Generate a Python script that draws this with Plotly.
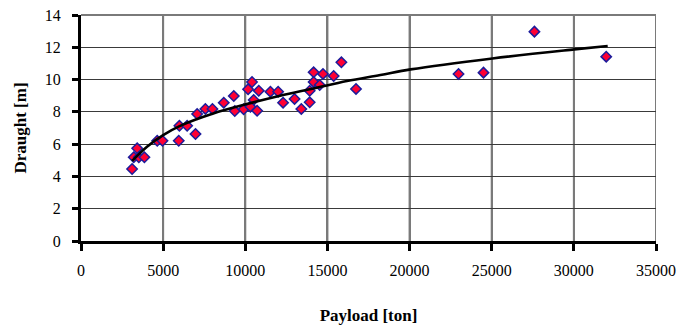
import plotly.graph_objects as go

payload = [3110, 3420, 3210, 3520, 3860, 4640, 4960, 5950, 5990, 6460, 6970, 7070,
           7570, 8000, 8690, 9300, 9360, 9900, 10170, 10410, 10510, 10310, 10720, 10820,
           11530, 12000, 12300, 13000, 13410, 13920, 13920, 14160, 14160, 14530, 14730,
           15380, 15850, 16740, 22980, 24500, 27600, 31970]
draught = [4.46, 5.74, 5.19, 5.19, 5.19, 6.21, 6.21, 6.21, 7.14, 7.14, 6.63, 7.87,
           8.18, 8.18, 8.57, 8.98, 8.05, 8.16, 9.40, 9.85, 8.74, 8.32, 8.07, 9.31,
           9.25, 9.25, 8.57, 8.80, 8.18, 8.59, 9.31, 10.45, 9.85, 9.67, 10.35,
           10.22, 11.07, 9.42, 10.35, 10.43, 12.97, 11.42]

trend_x = [3110, 4000, 5000, 6000, 8050, 10090, 12120, 14150, 16190, 18220, 20060, 25040, 30030, 32060]
trend_y = [4.96, 5.83, 6.56, 7.12, 7.90, 8.48, 9.00, 9.45, 9.91, 10.28, 10.63, 11.31, 11.87, 12.08]

x_ticks = [0, 5000, 10000, 15000, 20000, 25000, 30000, 35000]
y_ticks = [0, 2, 4, 6, 8, 10, 12, 14]

font = "Liberation Serif, Times New Roman, serif"

fig = go.Figure()
fig.add_trace(go.Scatter(
    x=payload, y=draught, mode="markers",
    marker=dict(symbol="diamond", size=8, color="#ff0033",
                line=dict(color="#1c1c9c", width=1.5)),
    showlegend=False, cliponaxis=False))
fig.add_trace(go.Scatter(
    x=trend_x, y=trend_y, mode="lines", line=dict(color="black", width=2.6, shape="spline"),
    showlegend=False))

# vertical gridlines at every x tick (data-referenced), plus the grey top border
for xv in x_ticks[1:]:
    fig.add_shape(type="line", xref="x", yref="paper", x0=xv, x1=xv, y0=0, y1=1,
                  line=dict(color="#7a7a7a", width=2), layer="below")
fig.add_shape(type="line", xref="paper", yref="paper", x0=0, y0=1, x1=1, y1=1,
              line=dict(color="#7a7a7a", width=2), layer="above")

fig.update_layout(
    template="none",
    width=680, height=317,
    margin=dict(l=73, r=32, t=7, b=84),
    paper_bgcolor="white", plot_bgcolor="white",
    font=dict(family=font, size=16, color="black"),
    xaxis=dict(range=[0, 35000], tickvals=x_ticks, ticktext=[str(v) for v in x_ticks],
               showgrid=True, gridcolor="#7a7a7a", gridwidth=2,
               showline=True, linecolor="black", linewidth=3,
               ticks="outside", ticklen=7, tickwidth=3, tickcolor="black",
               ticklabelstandoff=6, zeroline=False, automargin=False,
               title=dict(text="<b>Payload [ton]</b>", font=dict(size=17, family=font), standoff=32)),
    yaxis=dict(range=[0, 14], tickvals=y_ticks,
               showgrid=True, gridcolor="#3a3a3a", gridwidth=1,
               showline=True, linecolor="black", linewidth=3,
               ticks="outside", ticklen=6, tickwidth=3, tickcolor="black",
               ticklabelstandoff=8, zeroline=False, automargin=False,
               ticklabeloverflow="allow",
               title=dict(text="<b>Draught [m]</b>", font=dict(size=17, family=font), standoff=14)),
)

fig.write_html("out.html")
